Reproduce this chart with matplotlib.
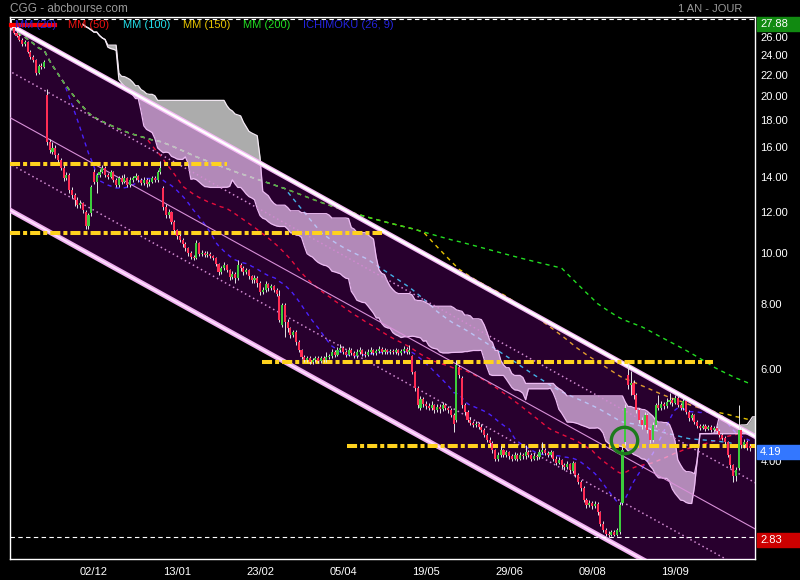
import numpy as np
import pandas as pd
import matplotlib
matplotlib.use("Agg")
import matplotlib.pyplot as plt
from matplotlib.patches import Rectangle
from matplotlib.ticker import FixedLocator, NullLocator, NullFormatter

plt.rcParams['font.family'] = ['Liberation Sans', 'DejaVu Sans']

# ---------------- data ----------------
opens = [
    27.40, 26.80, 26.21, 25.87, 25.41, 24.96, 25.19, 24.10, 23.57, 23.26,
    21.97, 22.66, 22.60, 19.93, 16.20, 15.50, 15.77, 15.29, 14.95, 14.44,
    13.81, 14.00, 13.10, 12.81, 12.53, 12.26, 12.37, 11.88, 11.17, 11.82,
    14.18, 13.57, 14.00, 14.18, 14.44, 14.00, 13.88, 14.18, 13.69, 13.39,
    13.81, 13.57, 13.81, 13.39, 13.69, 13.81, 13.94, 13.69, 13.51, 13.69,
    13.45, 13.57, 13.81, 13.69, 14.18, 13.22, 12.15, 11.73, 11.88, 11.37,
    10.98, 10.69, 10.50, 10.32, 10.14, 9.92, 9.74, 9.70, 10.36, 9.88,
    9.92, 9.83, 9.88, 9.79, 9.70, 9.44, 9.12, 9.28, 9.40, 9.20,
    8.92, 9.04, 8.88, 9.40, 9.28, 9.12, 9.20, 8.96, 8.80, 8.88,
    8.68, 8.35, 8.42, 8.65, 8.49, 8.57, 8.42, 8.20, 7.22, 7.88,
    7.32, 7.12, 6.90, 6.99, 6.69, 6.46, 6.26, 6.18, 6.23, 6.13,
    6.18, 6.23, 6.15, 6.23, 6.18, 6.26, 6.29, 6.40, 6.32, 6.46,
    6.52, 6.40, 6.32, 6.46, 6.37, 6.29, 6.40, 6.46, 6.35, 6.32,
    6.40, 6.46, 6.37, 6.43, 6.49, 6.40, 6.46, 6.40, 6.43, 6.40,
    6.46, 6.37, 6.43, 6.49, 6.40, 6.29, 5.86, 5.46, 5.00, 5.20,
    5.09, 5.05, 5.00, 5.07, 4.96, 5.02, 4.98, 5.07, 5.00, 4.96,
    4.85, 4.74, 5.99, 5.70, 5.07, 4.91, 4.74, 4.68, 4.64, 4.66,
    4.60, 4.54, 4.44, 4.34, 4.28, 4.15, 4.00, 4.06, 4.15, 4.06,
    4.11, 4.04, 4.00, 4.06, 4.00, 4.06, 4.04, 4.11, 4.06, 4.00,
    4.04, 4.02, 4.11, 4.15, 4.10, 4.06, 4.11, 4.00, 3.93, 3.97,
    3.88, 3.85, 3.90, 3.78, 3.92, 3.72, 3.61, 3.51, 3.33, 3.26,
    3.29, 3.24, 3.27, 3.16, 3.00, 2.92, 2.87, 2.85, 2.89, 2.86,
    2.89, 3.29, 4.30, 5.78, 5.53, 5.58, 5.30, 4.96, 4.74, 4.64,
    4.85, 4.54, 4.34, 4.64, 5.07, 5.00, 5.09, 5.05, 5.14, 5.18,
    5.11, 5.23, 5.07, 5.00, 5.16, 4.91, 4.78, 4.85, 4.70, 4.62,
    4.58, 4.62, 4.56, 4.60, 4.54, 4.58, 4.52, 4.44, 4.38, 4.30,
    4.06, 3.88, 3.70, 3.83, 4.54, 4.24, 4.30, 4.22,
]
highs = [
    27.88, 27.00, 26.40, 26.10, 25.60, 25.45, 25.30, 24.30, 23.80, 23.40,
    22.85, 22.95, 23.30, 20.46, 16.40, 16.20, 15.95, 15.45, 15.10, 14.60,
    14.20, 14.10, 13.25, 12.95, 12.70, 12.55, 12.45, 12.00, 11.85, 13.40,
    14.40, 14.15, 14.35, 14.60, 14.55, 14.15, 14.30, 14.25, 13.80, 13.95,
    14.00, 14.05, 13.90, 13.85, 13.95, 14.10, 14.00, 13.80, 13.85, 13.80,
    13.75, 13.95, 13.95, 14.30, 14.90, 13.35, 12.30, 12.05, 11.95, 11.45,
    11.05, 10.80, 10.60, 10.40, 10.20, 10.00, 9.85, 10.50, 10.40, 10.05,
    10.00, 10.00, 9.95, 9.85, 9.75, 9.50, 9.35, 9.55, 9.45, 9.25,
    9.15, 9.10, 9.60, 9.50, 9.35, 9.30, 9.25, 9.00, 9.00, 8.95,
    8.75, 8.55, 8.75, 8.70, 8.65, 8.60, 8.50, 8.42, 7.95, 7.95,
    7.40, 7.15, 7.05, 7.05, 6.75, 6.50, 6.32, 6.30, 6.28, 6.25,
    6.30, 6.28, 6.30, 6.28, 6.40, 6.35, 6.50, 6.45, 6.55, 6.65,
    6.58, 6.45, 6.55, 6.52, 6.42, 6.48, 6.55, 6.50, 6.42, 6.48,
    6.55, 6.50, 6.50, 6.58, 6.54, 6.52, 6.50, 6.50, 6.48, 6.52,
    6.50, 6.50, 6.58, 6.55, 6.60, 6.32, 5.90, 5.50, 5.28, 5.25,
    5.15, 5.12, 5.15, 5.10, 5.10, 5.08, 5.14, 5.12, 5.05, 5.00,
    4.90, 6.18, 6.05, 5.75, 5.12, 4.95, 4.80, 4.72, 4.72, 4.70,
    4.65, 4.58, 4.48, 4.40, 4.32, 4.18, 4.12, 4.22, 4.18, 4.16,
    4.14, 4.08, 4.12, 4.10, 4.12, 4.10, 4.25, 4.15, 4.10, 4.10,
    4.08, 4.18, 4.30, 4.20, 4.14, 4.16, 4.14, 4.04, 4.02, 4.00,
    3.92, 3.95, 3.93, 3.96, 3.94, 3.75, 3.64, 3.54, 3.36, 3.33,
    3.32, 3.31, 3.30, 3.18, 3.03, 2.95, 2.90, 2.92, 2.92, 2.95,
    3.30, 4.22, 5.10, 6.10, 5.90, 5.65, 5.35, 5.00, 4.80, 4.92,
    4.90, 4.58, 4.70, 5.12, 5.30, 5.15, 5.14, 5.22, 5.35, 5.22,
    5.30, 5.28, 5.12, 5.22, 5.20, 4.95, 4.90, 4.88, 4.74, 4.66,
    4.66, 4.65, 4.64, 4.63, 4.62, 4.61, 4.55, 4.47, 4.41, 4.33,
    4.09, 3.91, 3.85, 5.07, 4.60, 4.36, 4.34, 4.26,
]
lows = [
    26.60, 26.05, 25.70, 25.25, 24.75, 24.80, 23.95, 23.40, 23.05, 21.80,
    21.85, 22.40, 22.45, 16.00, 15.40, 15.35, 15.10, 14.80, 14.30, 13.65,
    13.70, 12.95, 12.65, 12.20, 12.10, 12.10, 11.85, 11.05, 11.05, 11.70,
    13.45, 12.90, 13.90, 14.10, 13.85, 13.75, 13.80, 13.55, 13.25, 13.30,
    13.45, 13.50, 13.25, 13.30, 13.60, 13.70, 13.55, 13.40, 13.40, 13.30,
    13.35, 13.50, 13.55, 13.60, 14.05, 12.00, 11.60, 11.60, 11.25, 10.85,
    10.55, 10.40, 10.20, 10.00, 9.80, 9.65, 9.60, 9.65, 9.80, 9.80,
    9.75, 9.75, 9.70, 9.60, 9.35, 9.00, 9.05, 9.20, 9.10, 8.80,
    8.85, 8.70, 8.80, 9.15, 9.00, 9.05, 8.85, 8.70, 8.70, 8.55,
    8.25, 8.28, 8.35, 8.40, 8.42, 8.35, 8.20, 7.30, 7.15, 6.85,
    7.00, 6.80, 6.85, 6.60, 6.40, 6.20, 6.12, 6.12, 6.08, 6.08,
    6.12, 6.10, 6.10, 6.12, 6.12, 6.20, 6.25, 6.26, 6.28, 6.40,
    6.35, 6.26, 6.28, 6.32, 6.24, 6.25, 6.35, 6.30, 6.26, 6.28,
    6.35, 6.32, 6.33, 6.38, 6.35, 6.35, 6.35, 6.35, 6.35, 6.36,
    6.32, 6.33, 6.38, 6.35, 6.35, 5.80, 5.40, 5.00, 4.95, 5.02,
    4.98, 4.95, 4.95, 4.90, 4.92, 4.90, 4.94, 4.95, 4.90, 4.80,
    4.50, 4.70, 5.70, 5.00, 4.85, 4.70, 4.64, 4.60, 4.60, 4.55,
    4.50, 4.40, 4.30, 4.22, 4.10, 3.95, 3.96, 4.02, 4.02, 4.02,
    4.00, 3.96, 3.97, 3.96, 3.97, 4.00, 4.00, 4.02, 3.96, 3.97,
    3.98, 4.00, 4.08, 4.06, 4.02, 4.02, 3.96, 3.89, 3.90, 3.84,
    3.81, 3.82, 3.76, 3.75, 3.68, 3.57, 3.47, 3.30, 3.22, 3.23,
    3.20, 3.21, 3.12, 2.97, 2.89, 2.84, 2.83, 2.84, 2.84, 2.84,
    2.87, 3.26, 4.25, 5.45, 5.30, 5.20, 4.90, 4.68, 4.55, 4.60,
    4.48, 4.28, 4.30, 4.60, 4.95, 4.95, 4.98, 5.00, 5.10, 5.05,
    5.08, 5.02, 4.95, 4.96, 4.86, 4.72, 4.74, 4.65, 4.58, 4.54,
    4.55, 4.52, 4.53, 4.50, 4.51, 4.48, 4.40, 4.34, 4.26, 4.02,
    3.84, 3.60, 3.62, 3.80, 4.20, 4.20, 4.15, 4.13,
]
closes = [
    26.80, 26.21, 25.87, 25.41, 24.96, 25.19, 24.10, 23.57, 23.26, 21.97,
    22.66, 22.60, 23.06, 16.20, 15.63, 15.77, 15.29, 14.95, 14.44, 13.81,
    14.00, 13.10, 12.81, 12.53, 12.26, 12.37, 11.99, 11.17, 11.73, 13.28,
    13.57, 14.00, 14.18, 14.44, 14.00, 13.88, 14.18, 13.69, 13.39, 13.81,
    13.57, 13.81, 13.39, 13.69, 13.81, 13.94, 13.69, 13.51, 13.69, 13.45,
    13.57, 13.81, 13.69, 14.18, 14.44, 12.15, 11.73, 11.88, 11.37, 10.98,
    10.69, 10.50, 10.32, 10.14, 9.92, 9.74, 9.70, 10.36, 9.88, 9.92,
    9.83, 9.88, 9.79, 9.70, 9.44, 9.12, 9.28, 9.40, 9.20, 8.92,
    9.04, 8.88, 9.40, 9.28, 9.12, 9.20, 8.96, 8.80, 8.88, 8.68,
    8.35, 8.42, 8.65, 8.49, 8.57, 8.42, 8.27, 7.38, 7.88, 7.32,
    7.12, 6.90, 6.99, 6.69, 6.46, 6.26, 6.18, 6.23, 6.13, 6.18,
    6.23, 6.15, 6.23, 6.18, 6.26, 6.29, 6.40, 6.32, 6.46, 6.52,
    6.40, 6.32, 6.46, 6.37, 6.29, 6.40, 6.46, 6.35, 6.32, 6.40,
    6.46, 6.37, 6.43, 6.49, 6.40, 6.46, 6.40, 6.43, 6.40, 6.46,
    6.37, 6.43, 6.49, 6.40, 6.46, 5.86, 5.46, 5.07, 5.20, 5.09,
    5.05, 5.00, 5.07, 4.96, 5.02, 4.98, 5.07, 5.00, 4.96, 4.85,
    4.66, 6.05, 5.78, 5.07, 4.91, 4.74, 4.68, 4.64, 4.66, 4.60,
    4.54, 4.44, 4.34, 4.28, 4.15, 4.00, 4.06, 4.15, 4.06, 4.11,
    4.04, 4.00, 4.06, 4.00, 4.06, 4.04, 4.11, 4.06, 4.00, 4.04,
    4.02, 4.11, 4.15, 4.10, 4.06, 4.11, 4.00, 3.93, 3.97, 3.88,
    3.85, 3.90, 3.80, 3.92, 3.72, 3.61, 3.51, 3.33, 3.26, 3.29,
    3.24, 3.27, 3.16, 3.00, 2.92, 2.87, 2.85, 2.89, 2.86, 2.92,
    3.26, 4.15, 5.00, 5.53, 5.58, 5.30, 4.96, 4.74, 4.64, 4.85,
    4.54, 4.34, 4.64, 5.07, 5.00, 5.09, 5.05, 5.14, 5.18, 5.11,
    5.23, 5.07, 5.00, 5.16, 4.91, 4.78, 4.85, 4.70, 4.62, 4.58,
    4.62, 4.56, 4.60, 4.54, 4.58, 4.52, 4.44, 4.38, 4.30, 4.06,
    3.88, 3.70, 3.80, 4.54, 4.24, 4.30, 4.19, 4.19,
]

date_labels = ['02/12', '13/01', '23/02', '05/04', '19/05', '29/06', '09/08', '19/09']
date_label_bars = [30, 60, 90, 120, 150, 180, 210, 240]
price_ticks = [26, 24, 22, 20, 18, 16, 14, 12, 10, 8, 6, 4]

period_high = 27.88
period_low = 2.83
last_price = 4.19

ma_periods = [20, 50, 100, 150, 200]
ma_colors = ['#2a2aff', '#ee1111', '#22dde8', '#e6c300', '#22dd22']
ma_names = ['MM (20)', 'MM (50)', 'MM (100)', 'MM (150)', 'MM (200)']
ma_text_colors = ['#2424dd', '#ee1111', '#22dde8', '#e6c300', '#22dd22']

ichimoku_tenkan, ichimoku_kijun, ichimoku_span_b, ichimoku_shift = 9, 26, 52, 26

# regression channel: centre price at first and last bar, band ratio
channel_center_first = 17.99
channel_center_last = 2.97
channel_band_ratio = 1.505

# support / resistance levels and their bar spans
support_levels = [14.71, 10.85, 6.13, 4.23]
support_starts = [-0.5, -0.5, 90.7, 121.4]
support_ends = [78.1, 134.1, 253.7, 270.0]

# highlighted point (green circle)
circle_bar, circle_price = 221.7, 4.34

# ---------------- figure ----------------
W, H = 800, 580
fig = plt.figure(figsize=(W / 100, H / 100), dpi=100, facecolor='black')
ax_l, ax_r, ax_t, ax_b = 10, 755, 17, 559
ax = fig.add_axes([ax_l / W, 1 - ax_b / H, (ax_r - ax_l) / W, (ax_b - ax_t) / H])
ax.set_facecolor('black')
ax.set_yscale('log')

O = np.array(opens); Hh = np.array(highs); L = np.array(lows); C = np.array(closes)
n = len(C)
x = np.arange(n)

ax.set_xlim(-0.36, 268.9)
ax.set_ylim(2.567, 28.13)

# moving averages
cs = pd.Series(C)
for p, col in zip(ma_periods, ma_colors):
    ma = cs.rolling(p, min_periods=1).mean().values
    ax.plot(x, ma, color=col, lw=1.0, linestyle=(0, (3, 3)), zorder=1)

# ichimoku cloud
hs, ls = pd.Series(Hh), pd.Series(L)
tenkan = (hs.rolling(ichimoku_tenkan, min_periods=1).max() + ls.rolling(ichimoku_tenkan, min_periods=1).min()) / 2
kijun = (hs.rolling(ichimoku_kijun, min_periods=1).max() + ls.rolling(ichimoku_kijun, min_periods=1).min()) / 2
span_a = ((tenkan + kijun) / 2).values
span_b = ((hs.rolling(ichimoku_span_b, min_periods=1).max() + ls.rolling(ichimoku_span_b, min_periods=1).min()) / 2).values
xs = x + ichimoku_shift
ax.fill_between(xs, span_a, span_b, color='white', alpha=0.68, lw=0, zorder=2)
ax.plot(xs, span_a, color='#f4eaf4', lw=0.9, zorder=2.1)
ax.plot(xs, span_b, color='#f4eaf4', lw=0.9, zorder=2.1)

# regression channel
xc = np.linspace(-1, 270, 50)
last_bar = n - 1
center = channel_center_first * (channel_center_last / channel_center_first) ** (xc / last_bar)
upper = center * channel_band_ratio
lower = center / channel_band_ratio
q = np.sqrt(channel_band_ratio)
ax.fill_between(xc, lower, upper, color=(0.8, 0.0, 0.92), alpha=0.2, lw=0, zorder=3)
ax.plot(xc, center, color='#d890d8', lw=0.8, zorder=4)
ax.plot(xc, center * q, color='#d08ad0', lw=1.1, linestyle=(0, (1, 2)), zorder=4)
ax.plot(xc, center / q, color='#d08ad0', lw=1.1, linestyle=(0, (1, 2)), zorder=4)
ax.plot(xc, upper, color='#f4b8f4', lw=3.6, zorder=4, solid_capstyle='butt')
ax.plot(xc, upper, color='white', lw=1.8, zorder=4.1)
ax.plot(xc, lower, color='#f0b0f0', lw=3.6, zorder=4, solid_capstyle='butt')
ax.plot(xc, lower, color='#ffe4ff', lw=1.2, zorder=4.1)

# support / resistance lines
for lvl, s, e in zip(support_levels, support_starts, support_ends):
    ax.plot([s, e], [lvl, lvl], color='#ffd21e', lw=2.9, dashes=(2.5, 0.75, 1.0, 0.75), zorder=5)

# period high / low dashed lines
ax.axhline(period_high, color='white', lw=0.8, linestyle=(0, (4, 3)), zorder=5)
ax.axhline(period_low, color='white', lw=0.8, linestyle=(0, (4, 3)), zorder=5)

# candles
ax.vlines(x, L, Hh, color='#e6e6e6', lw=0.7, zorder=6)
up = C >= O
body_h = np.maximum(np.abs(C - O), C * 0.004)
body_b = np.minimum(O, C)
ax.bar(x[up], body_h[up], bottom=body_b[up], width=0.75, color='#3ccc3c', lw=0, zorder=7)
ax.bar(x[~up], body_h[~up], bottom=body_b[~up], width=0.75, color='#ff2d55', lw=0, zorder=7)

# green circle
ax.plot([circle_bar], [circle_price], marker='o', ms=19, mfc='none', mec='#1d7a1d', mew=2.4, zorder=8)

# axes styling
for sp in ax.spines.values():
    sp.set_color('white')
    sp.set_linewidth(1.0)
ax.yaxis.set_major_locator(FixedLocator(price_ticks))
ax.yaxis.set_minor_locator(NullLocator())
ax.yaxis.set_minor_formatter(NullFormatter())
ax.tick_params(axis='y', left=False, right=False, labelleft=False, labelright=False)
ax.set_xticks(date_label_bars)
ax.set_xticklabels(date_labels)
ax.tick_params(axis='x', length=0, colors='white', labelsize=8, pad=6)

# right-side price labels (slightly below their level, as in the reference)
for v in price_ticks:
    ax.annotate(f'{v:.2f}', xy=(1, v), xycoords=('axes fraction', 'data'),
                xytext=(4, -2.2), textcoords='offset points', color='white',
                fontsize=8, va='center', ha='left', annotation_clip=False)

# price boxes on the right
def price_box(value, color, shift_px):
    yd = ax.transData.transform((0, value))[1] - shift_px
    fig.patches.append(Rectangle((757 / W, (yd - 7) / H), 43 / W, 14 / H,
                                 transform=fig.transFigure, color=color, zorder=10))
    fig.text(760 / W, yd / H, f'{value:.2f}', color='white', fontsize=8,
             va='center', ha='left', zorder=11)

price_box(period_high, '#118a11', 5)
price_box(last_price, '#3377ff', 4)
price_box(period_low, '#cc0000', 3)

# header texts
fig.text(10 / W, 1 - 9 / H, 'CGG - abcbourse.com', color='#9a9a9a', fontsize=8.5, va='center', ha='left')
fig.text(742 / W, 1 - 9 / H, '1 AN - JOUR', color='#9a9a9a', fontsize=8, va='center', ha='right')

# legend texts
fig.lines.append(plt.Line2D([11 / W, 55 / W], [1 - 25 / H, 1 - 25 / H], transform=fig.transFigure,
                            color='#ff0000', lw=3, zorder=9))
legend_x = [15, 68, 123, 183, 243]
for name, col, lx in zip(ma_names, ma_text_colors, legend_x):
    fig.text(lx / W, 1 - 25 / H, name, color=col, fontsize=8, va='center', ha='left', zorder=12)
fig.text(303 / W, 1 - 25 / H, 'ICHIMOKU (26, 9)', color='#2424dd', fontsize=8, va='center', ha='left', zorder=12)

fig.savefig('out.png', dpi=100, facecolor='black')
